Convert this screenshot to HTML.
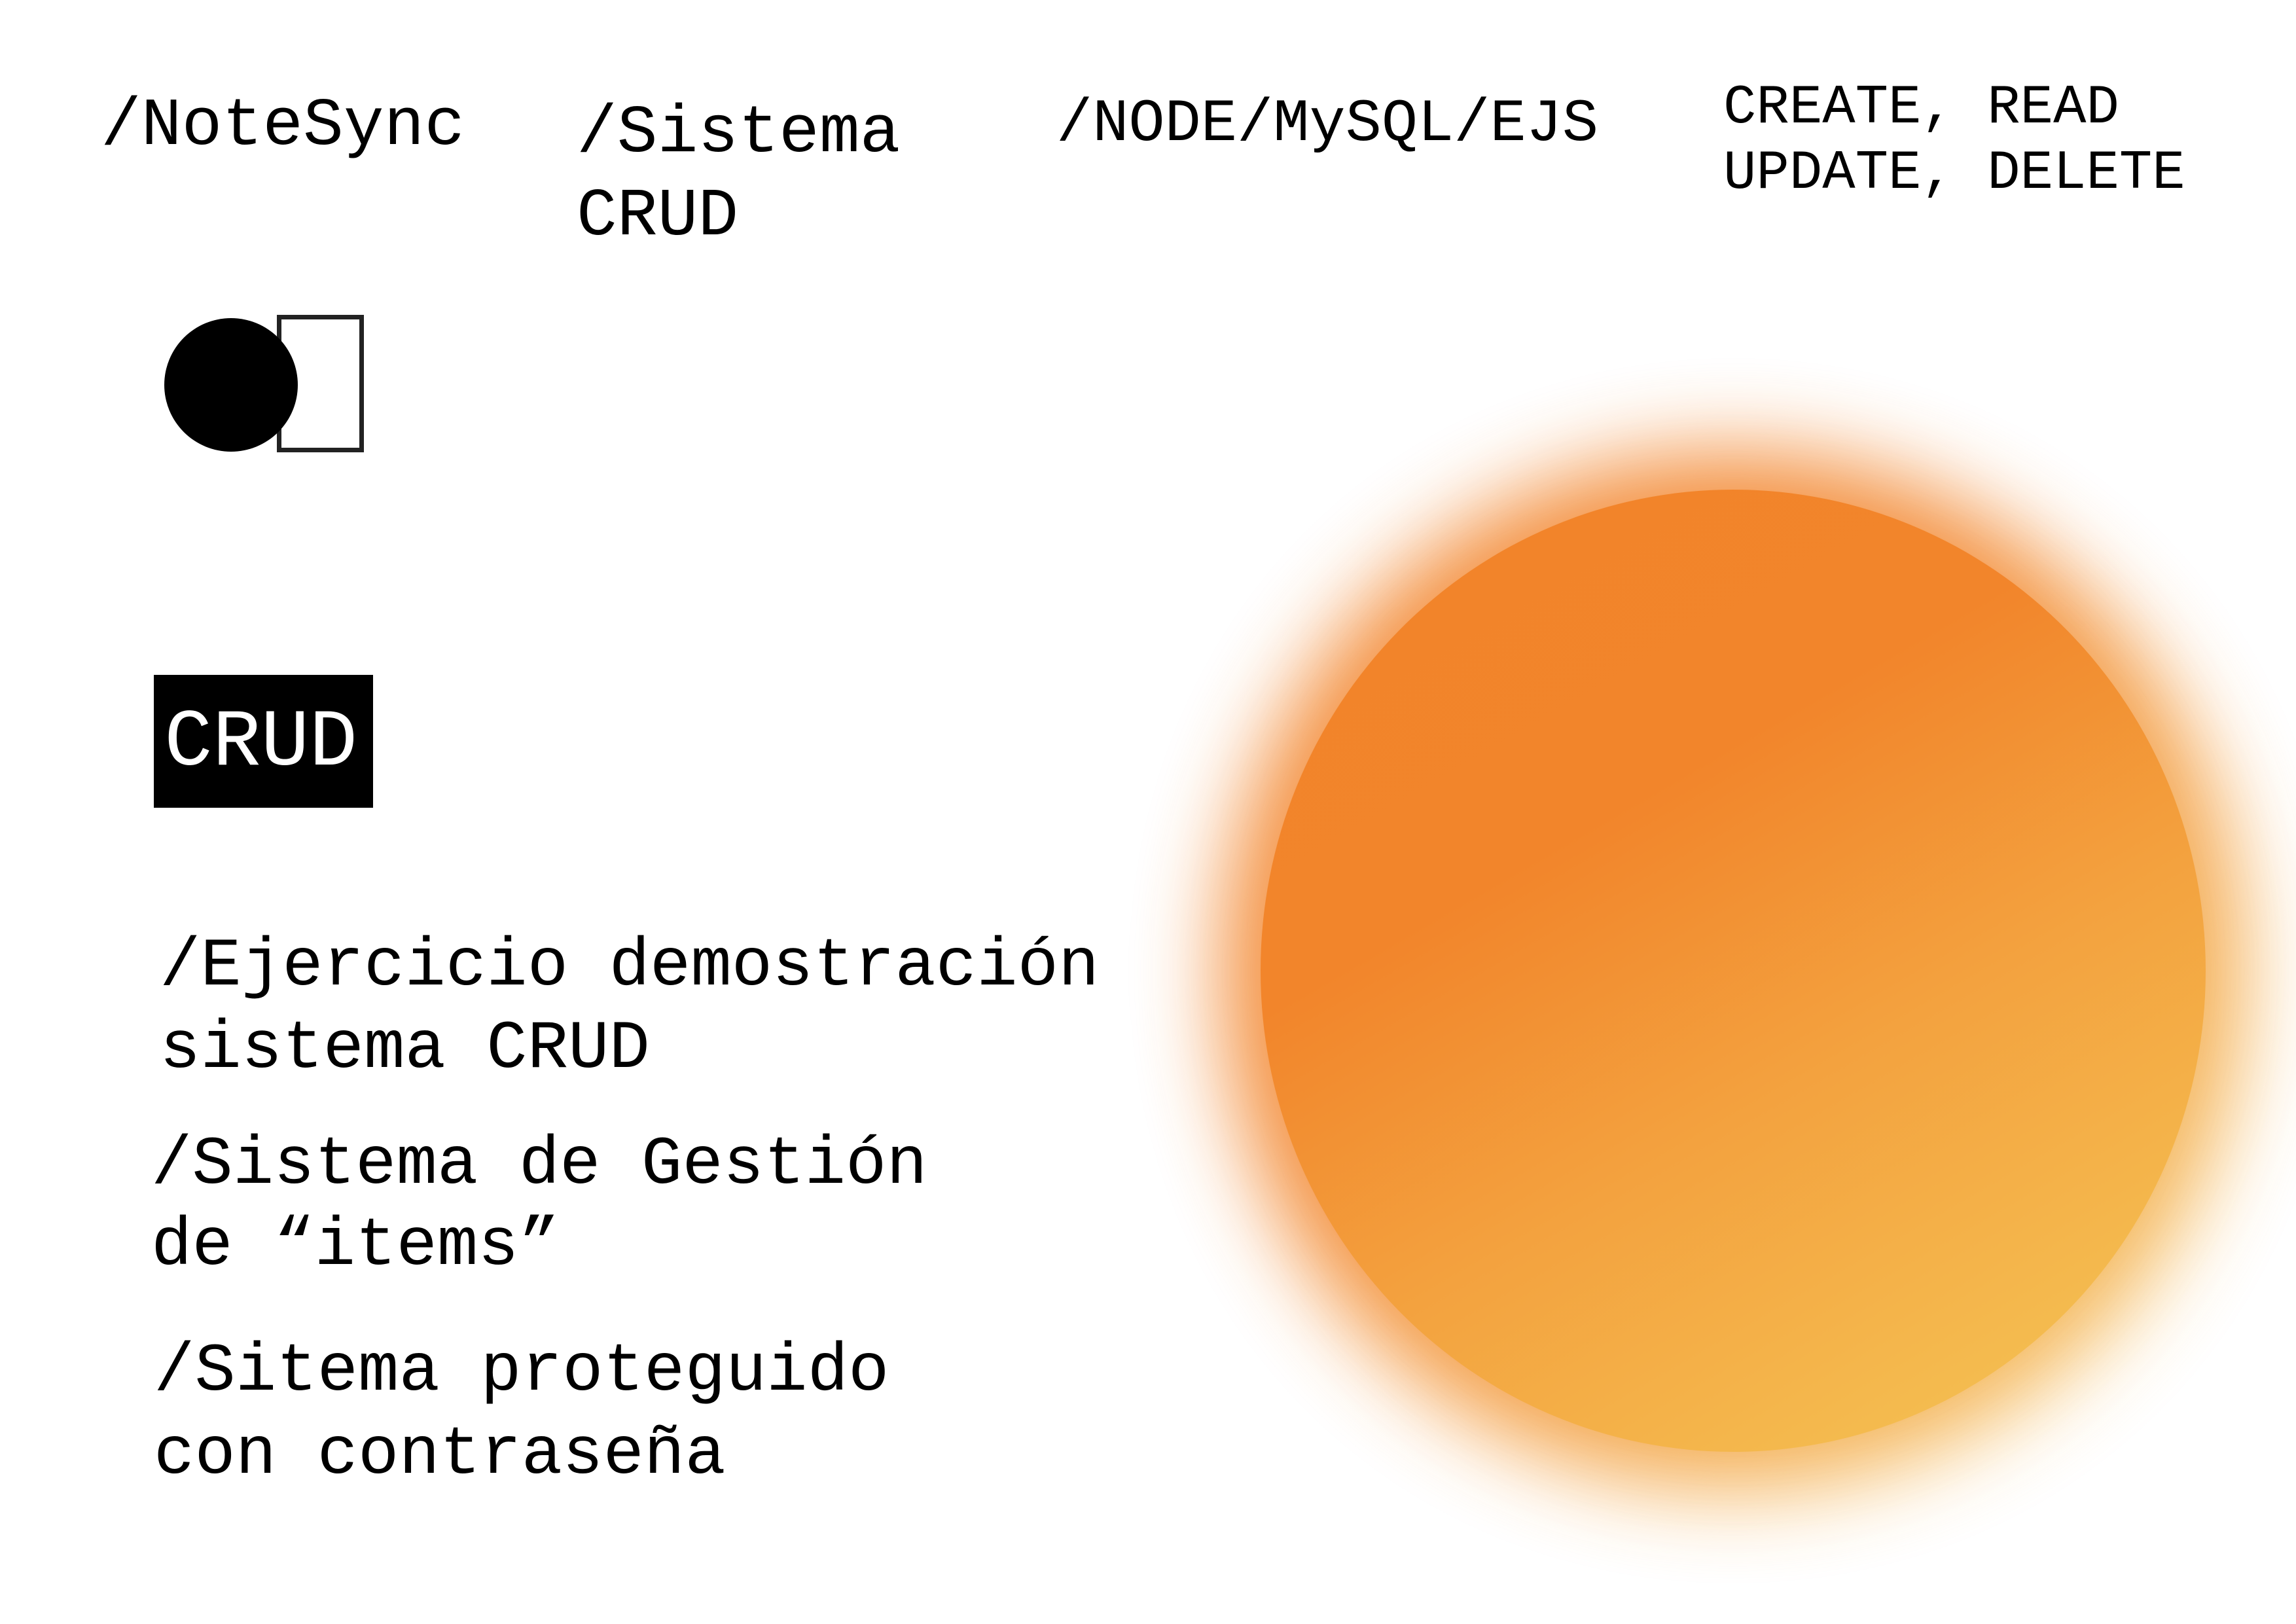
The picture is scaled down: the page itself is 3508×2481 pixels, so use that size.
<!DOCTYPE html>
<html><head><meta charset="utf-8"><style>
html,body{margin:0;padding:0;background:#fff}
body{width:3508px;height:2481px;position:relative;overflow:hidden;font-family:"Liberation Mono","DejaVu Sans Mono",monospace;color:#000}
.t{position:absolute;white-space:pre;line-height:1}
.glow{position:absolute;left:1866px;top:688px;width:1564px;height:1590px;border-radius:50%;background:linear-gradient(135deg,#f2832a 0%,#f2852c 40%,#f4c458 100%);filter:blur(65px);opacity:.9}
.sun{position:absolute;left:1926px;top:748px;width:1444px;height:1470px;border-radius:50%;background:linear-gradient(150deg,#f2842a 0%,#f2852b 35%,#f3a23f 60%,#f5c857 100%)}
</style></head><body>
<div class="glow"></div>
<div class="sun"></div>

<div class="t" style="left:154px;top:141px;font-size:103px">/NoteSync</div>
<div class="t" style="left:881px;top:152px;font-size:103px">/Sistema</div>
<div class="t" style="left:881px;top:279px;font-size:103px">CRUD</div>
<div class="t" style="left:1614px;top:144px;font-size:92px">/NODE/MySQL/EJS</div>
<div class="t" style="left:2633px;top:124px;font-size:84px">CREATE, READ</div>
<div class="t" style="left:2633px;top:224px;font-size:84px">UPDATE, DELETE</div>

<div style="position:absolute;left:423px;top:481px;width:119px;height:196px;border:7px solid #222;background:#fff"></div>
<div style="position:absolute;left:251px;top:486px;width:204px;height:204px;border-radius:50%;background:#000"></div>

<div style="position:absolute;left:235px;top:1031px;width:335px;height:203px;background:#000"></div>
<div class="t" style="left:251px;top:1074px;font-size:123px;color:#fff">CRUD</div>

<div class="t" style="left:244px;top:1425px;font-size:104px">/Ejercicio demostración</div>
<div class="t" style="left:244px;top:1551px;font-size:104px">sistema CRUD</div>
<div class="t" style="left:231px;top:1728px;font-size:104px">/Sistema de Gestión</div>
<div class="t" style="left:231px;top:1852px;font-size:104px">de “items”</div>
<div class="t" style="left:235px;top:2044px;font-size:104px">/Sitema proteguido</div>
<div class="t" style="left:235px;top:2171px;font-size:104px">con contraseña</div>
</body></html>
